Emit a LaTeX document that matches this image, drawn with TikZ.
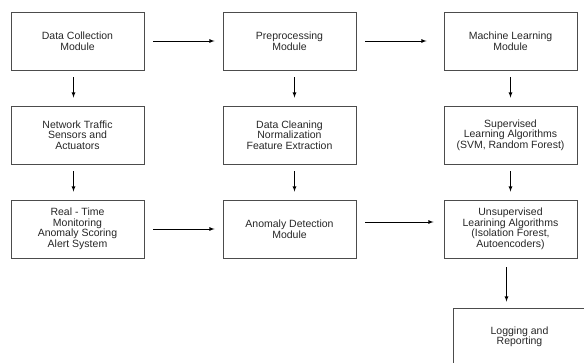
\documentclass[tikz,border=0pt]{standalone}
\usepackage{fontspec}
\setmainfont{Liberation Sans}
\begin{document}
\begin{tikzpicture}[x=1pt, y=-1pt,
  module/.style={draw=black!70, line width=0.9pt, minimum width=133pt, minimum height=58pt, inner sep=0pt, align=center, text=black!85, font=\fontsize{10.5}{10.5}\selectfont},
  flow/.style={-latex, line width=0.8pt, shorten <=9pt, shorten >=8pt}]
\useasboundingbox (0,0) rectangle (584,362);
% top row
\node[module] (collect) at (77.5,41) {Data Collection\\Module};
\node[module] (prep) at (289.5,41) {Preprocessing\\Module};
\node[module] (ml) at (510.5,41) {Machine Learning\\Module};
% middle row
\node[module] (traffic) at (77.5,135) {Network Traffic\\Sensors and\\Actuators};
\node[module] (clean) at (289.5,135) {Data Cleaning\\Normalization\\Feature Extraction};
\node[module] (superv) at (510.5,135) {Supervised\\Learning Algorithms\\(SVM, Random Forest)};
% bottom row
\node[module] (monitor) at (77.5,229) {Real - Time\\Monitoring\\Anomaly Scoring\\Alert System};
\node[module] (detect) at (289.5,229) {Anomaly Detection\\Module};
\node[module] (unsuperv) at (510.5,229) {Unsupervised\\Learining Algorithms\\(Isolation Forest,\\Autoencoders)};
\node[module] (log) at (519.5,337) {Logging and\\Reporting};
% horizontal flow
\draw[flow] (collect) -- (prep);
\draw[flow, shorten >=17pt] (prep) -- (ml);
\draw[flow] (monitor) -- (detect);
\draw[flow, shorten >=10pt] ([yshift=7pt]detect.east) -- ([yshift=7pt]unsuperv.west);
% vertical flow
\draw[flow, shorten <=7pt] ([xshift=-4pt]collect.south) -- ([xshift=-4pt]traffic.north);
\draw[flow, shorten <=7pt] ([xshift=5pt]prep.south) -- ([xshift=5pt]clean.north);
\draw[flow, shorten <=7pt] (ml) -- (superv);
\draw[flow, shorten <=7pt] ([xshift=-4pt]traffic.south) -- ([xshift=-4pt]monitor.north);
\draw[flow, shorten <=7pt] ([xshift=5pt]clean.south) -- ([xshift=5pt]detect.north);
\draw[flow, shorten <=7pt] (superv) -- (unsuperv);
\draw[flow, shorten >=6pt] ([xshift=-4pt]unsuperv.south) -- ([xshift=-4pt]unsuperv.south |- log.north);
\end{tikzpicture}
\end{document}
